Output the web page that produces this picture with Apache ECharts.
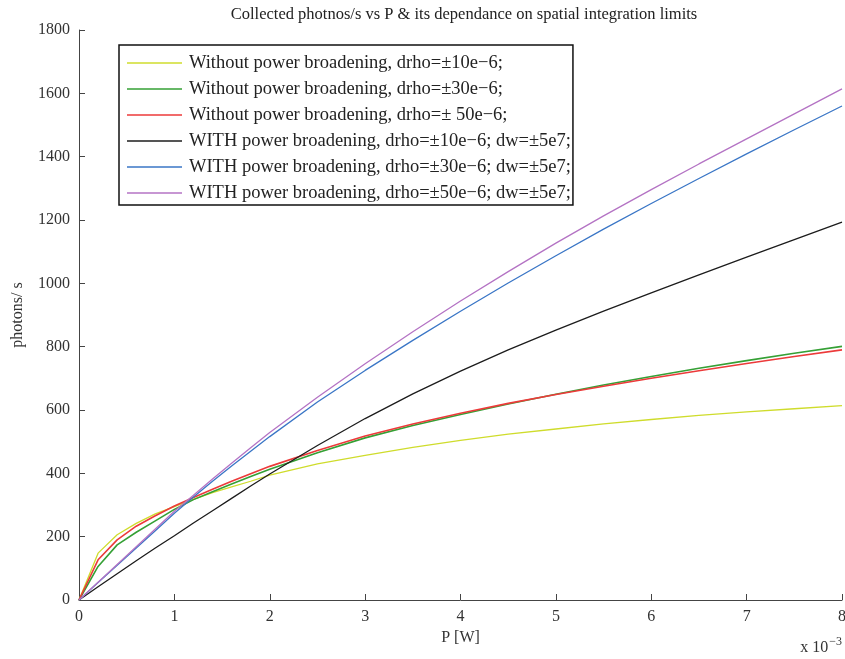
<!DOCTYPE html>
<html>
<head>
<meta charset="utf-8">
<script src="https://cdn.jsdelivr.net/npm/echarts@6/dist/echarts.min.js"></script>
<style>
  html, body { margin: 0; padding: 0; background: #fff; }
  #chart { width: 845px; height: 659px; }
</style>
</head>
<body>
<div id="chart"></div>
<script>
// Laser power P, in units of 1e-3 W
const powerMilliW = [0, 0.2, 0.4, 0.6, 0.8, 1.0, 1.2, 1.4, 1.6, 1.8, 2.0,
                     2.5, 3.0, 3.5, 4.0, 4.5, 5.0, 5.5, 6.0, 6.5, 7.0, 7.5, 8.0];

// Collected photons/s for each spatial integration window
const noBroad10 = [0, 148, 206, 242, 272, 295, 318, 339, 357, 375, 394,
                   430, 457, 482, 504, 524, 540, 556, 570, 583, 594, 604, 614];
const noBroad30 = [0, 106, 174, 214, 250, 286, 317, 342, 366, 390, 413,
                   465, 512, 551, 586, 619, 650, 679, 706, 732, 756, 779, 801];
const noBroad50 = [0, 127, 190, 233, 266, 297, 324, 350, 375, 399, 422,
                   472, 518, 556, 590, 621, 649, 675, 700, 724, 747, 769, 790];
const withBroad10 = [0, 42, 83, 124, 164, 203, 243, 282, 321, 360, 398,
                     488, 573, 651, 723, 790, 852, 912, 970, 1027, 1083, 1138, 1193];
const withBroad30 = [0, 55, 110, 164, 219, 274, 325, 375, 423, 470, 516,
                     625, 725, 820, 912, 1001, 1087, 1171, 1252, 1331, 1409, 1485, 1560];
const withBroad50 = [0, 56, 112, 168, 224, 280, 331, 382, 432, 481, 529,
                     640, 746, 847, 944, 1037, 1127, 1213, 1296, 1377, 1456, 1535, 1614];

const seriesNames = [
  'Without power broadening, drho=\u00b110e\u22126;',
  'Without power broadening, drho=\u00b130e\u22126;',
  'Without power broadening, drho=\u00b1 50e\u22126;',
  'WITH power broadening, drho=\u00b110e\u22126; dw=\u00b15e7;',
  'WITH power broadening, drho=\u00b130e\u22126; dw=\u00b15e7;',
  'WITH power broadening, drho=\u00b150e\u22126; dw=\u00b15e7;'
];
const seriesValues = [noBroad10, noBroad30, noBroad50, withBroad10, withBroad30, withBroad50];
const seriesColors = ['#cfdc2c', '#35a035', '#ec3a3a', '#1c1c1c', '#3a76c6', '#b473c4'];
const seriesWidths = [1.3, 1.6, 1.6, 1.3, 1.3, 1.3];

const serif = '"Liberation Serif", "DejaVu Serif", serif';
const axisGrey = '#444';
const textGrey = '#333';

const chart = echarts.init(document.getElementById('chart'), null, { renderer: 'canvas' });

const series = seriesValues.map((vals, i) => ({
  name: seriesNames[i],
  type: 'line',
  data: powerMilliW.map((p, k) => [p, vals[k]]),
  showSymbol: false,
  symbol: 'none',
  smooth: false,
  lineStyle: { color: seriesColors[i], width: seriesWidths[i] },
  itemStyle: { color: seriesColors[i] },
  emphasis: { disabled: true },
  animation: false
}));

chart.setOption({
  animation: false,
  backgroundColor: '#fff',
  title: {
    text: 'Collected photnos/s vs P & its dependance on spatial integration limits',
    left: 459,
    textAlign: 'center',
    top: 1,
    textStyle: { fontFamily: serif, fontSize: 16.5, fontWeight: 'normal', color: '#222' }
  },
  legend: {
    orient: 'vertical',
    left: 119,
    top: 45,
    data: seriesNames,
    icon: 'rect',
    itemWidth: 55,
    itemHeight: 1.5,
    itemGap: 6,
    padding: [8, 2, 2, 8],
    borderColor: '#111',
    borderWidth: 1.5,
    backgroundColor: '#fff',
    selectedMode: false,
    textStyle: { fontFamily: serif, fontSize: 18.5, color: '#222', lineHeight: 20, padding: [0, 0, 0, 2] }
  },
  grid: { left: 79, right: 3, top: 30, bottom: 59, containLabel: false, outerBoundsMode: 'none' },
  xAxis: {
    type: 'value',
    min: 0,
    max: 8,
    interval: 1,
    name: 'P [W]',
    nameLocation: 'middle',
    nameGap: 27,
    nameTextStyle: { fontFamily: serif, fontSize: 16, color: textGrey },
    axisLine: { show: true, lineStyle: { color: axisGrey, width: 1 } },
    axisTick: { show: true, inside: true, length: 6, lineStyle: { color: axisGrey } },
    axisLabel: { fontFamily: serif, fontSize: 16, color: textGrey, margin: 9 },
    splitLine: { show: false }
  },
  yAxis: {
    type: 'value',
    min: 0,
    max: 1800,
    interval: 200,
    name: 'photons/ s',
    nameLocation: 'middle',
    nameGap: 53,
    nameTextStyle: { fontFamily: serif, fontSize: 16, color: textGrey },
    axisLine: { show: true, lineStyle: { color: axisGrey, width: 1 } },
    axisTick: { show: true, inside: true, length: 6, lineStyle: { color: axisGrey } },
    axisLabel: { fontFamily: serif, fontSize: 16, color: textGrey, margin: 9, formatter: v => String(v) },
    splitLine: { show: false }
  },
  graphic: [{
    type: 'text',
    right: 3,
    bottom: 3,
    style: {
      text: 'x 10{sup|\u22123}',
      font: '16px ' + serif,
      fill: textGrey,
      rich: {
        sup: { fontFamily: serif, fontSize: 12, fill: textGrey, verticalAlign: 'top', padding: [0, 0, 12, 1] }
      }
    }
  }],
  series: series
});
</script>
</body>
</html>
